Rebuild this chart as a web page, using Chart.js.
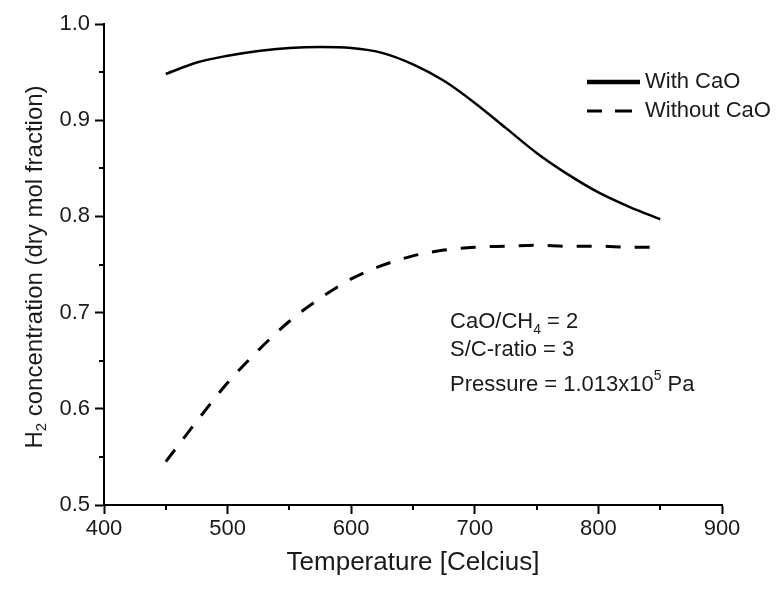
<!DOCTYPE html>
<html>
<head>
<meta charset="utf-8">
<title>H2 concentration vs temperature</title>
<script src="https://cdn.jsdelivr.net/npm/chart.js@4.4.1/dist/chart.umd.min.js"></script>
<style>
  html, body { margin: 0; padding: 0; background: #fff; }
  #wrap { width: 777px; height: 592px; }
</style>
</head>
<body>
<div id="wrap"><canvas id="chart" width="777" height="592"></canvas></div>
<script>
// temperature grid (Celcius)
const temps = [450, 475, 500, 525, 550, 575, 600, 625, 650, 675, 700, 725, 750, 775, 800, 825, 850];

// dry mol fraction of H2
const withCaO    = [0.948, 0.960, 0.967, 0.972, 0.975, 0.976, 0.975, 0.970, 0.958, 0.941, 0.918, 0.892, 0.866, 0.844, 0.825, 0.810, 0.797];
const withoutCaO = [0.545, 0.587, 0.627, 0.661, 0.691, 0.715, 0.735, 0.749, 0.759, 0.765, 0.768, 0.769, 0.770, 0.769, 0.769, 0.768, 0.768];

const seriesLabels = ['With CaO', 'Without CaO'];
const xMinorTicks = [450, 550, 650, 750, 850];
const yMinorTicks = [0.55, 0.65, 0.75, 0.85, 0.95];

const FONT = '"Liberation Sans", Arial, sans-serif';
const INK = '#1a1a1a';

// draws a run of text pieces, some raised or lowered (sub/superscripts)
function drawRich(ctx, parts, x, y, base) {
  let cx = x;
  parts.forEach(p => {
    ctx.font = (p.size || base) + 'px ' + FONT;
    ctx.fillText(p.t, cx, y + (p.dy || 0));
    cx += ctx.measureText(p.t).width;
  });
  return cx;
}

const decorations = {
  id: 'decorations',
  afterDraw(chart) {
    const ctx = chart.ctx;
    const xs = chart.scales.x, ys = chart.scales.y;
    const area = chart.chartArea;

    ctx.save();
    // minor ticks
    ctx.strokeStyle = '#000';
    ctx.lineWidth = 2;
    xMinorTicks.forEach(v => {
      const px = Math.round(xs.getPixelForValue(v));
      ctx.beginPath();
      ctx.moveTo(px, area.bottom);
      ctx.lineTo(px, area.bottom + 5);
      ctx.stroke();
    });
    yMinorTicks.forEach(v => {
      const py = Math.round(ys.getPixelForValue(v));
      ctx.beginPath();
      ctx.moveTo(area.left - 5, py);
      ctx.lineTo(area.left, py);
      ctx.stroke();
    });

    ctx.fillStyle = INK;
    ctx.textBaseline = 'middle';

    // x axis title
    ctx.font = '26px ' + FONT;
    ctx.textAlign = 'center';
    ctx.fillText('Temperature [Celcius]', (area.left + area.right) / 2, 563);

    // y axis title, rotated, with subscript 2
    ctx.save();
    ctx.translate(35, 267);
    ctx.rotate(-Math.PI / 2);
    ctx.textAlign = 'left';
    const yParts = [
      { t: 'H', size: 24 },
      { t: '2', size: 15, dy: 7 },
      { t: ' concentration (dry mol fraction)', size: 24 }
    ];
    let w = 0;
    yParts.forEach(p => { ctx.font = p.size + 'px ' + FONT; w += ctx.measureText(p.t).width; });
    drawRich(ctx, yParts, -w / 2, 0, 24);
    ctx.restore();

    // legend
    const lx = area.right - 135;
    ctx.lineCap = 'butt';
    ctx.strokeStyle = '#000';
    ctx.lineWidth = 4.5;
    ctx.beginPath();
    ctx.moveTo(lx, 82); ctx.lineTo(lx + 53, 82);
    ctx.stroke();
    ctx.lineWidth = 3;
    ctx.beginPath();
    ctx.moveTo(lx, 111); ctx.lineTo(lx + 15, 111);
    ctx.moveTo(lx + 28, 111); ctx.lineTo(lx + 45, 111);
    ctx.stroke();
    ctx.font = '22px ' + FONT;
    ctx.textAlign = 'left';
    ctx.fillText(seriesLabels[0], lx + 58, 82);
    ctx.fillText(seriesLabels[1], lx + 58, 111);

    // run conditions
    const tx = xs.getPixelForValue(680);
    drawRich(ctx, [{ t: 'CaO/CH' }, { t: '4', size: 14, dy: 8 }, { t: ' = 2' }], tx, 322, 22);
    drawRich(ctx, [{ t: 'S/C-ratio = 3' }], tx, 350, 22);
    drawRich(ctx, [{ t: 'Pressure = 1.013x10' }, { t: '5', size: 14, dy: -9 }, { t: ' Pa' }], tx, 385, 22);
    ctx.restore();
  }
};

const toPoints = arr => temps.map((t, i) => ({ x: t, y: arr[i] }));

new Chart(document.getElementById('chart'), {
  type: 'line',
  data: {
    datasets: [
      {
        label: seriesLabels[0],
        data: toPoints(withCaO),
        borderColor: '#000',
        borderWidth: 2.5,
        pointRadius: 0,
        cubicInterpolationMode: 'monotone',
        fill: false
      },
      {
        label: seriesLabels[1],
        data: toPoints(withoutCaO),
        borderColor: '#000',
        borderWidth: 3,
        borderDash: [15, 14],
        pointRadius: 0,
        cubicInterpolationMode: 'monotone',
        fill: false
      }
    ]
  },
  options: {
    responsive: false,
    animation: false,
    devicePixelRatio: 1,
    layout: { padding: { top: 24, right: 55, left: 0, bottom: 0 } },
    plugins: {
      legend: { display: false },
      tooltip: { enabled: false }
    },
    scales: {
      x: {
        type: 'linear',
        min: 400,
        max: 900,
        ticks: {
          stepSize: 100,
          color: INK,
          font: { family: FONT, size: 22 },
          padding: 2,
          maxRotation: 0
        },
        grid: { drawOnChartArea: false, tickLength: 9, tickWidth: 2, tickColor: '#000' },
        border: { color: '#000', width: 2 },
        afterFit(scale) { scale.height = 87; }
      },
      y: {
        min: 0.5,
        max: 1.0,
        ticks: {
          stepSize: 0.1,
          color: INK,
          font: { family: FONT, size: 22 },
          padding: 5,
          callback: v => v.toFixed(1)
        },
        grid: { drawOnChartArea: false, tickLength: 9, tickWidth: 2, tickColor: '#000' },
        border: { color: '#000', width: 2 },
        afterFit(scale) { scale.width = 104; }
      }
    }
  },
  plugins: [decorations]
});
</script>
</body>
</html>
